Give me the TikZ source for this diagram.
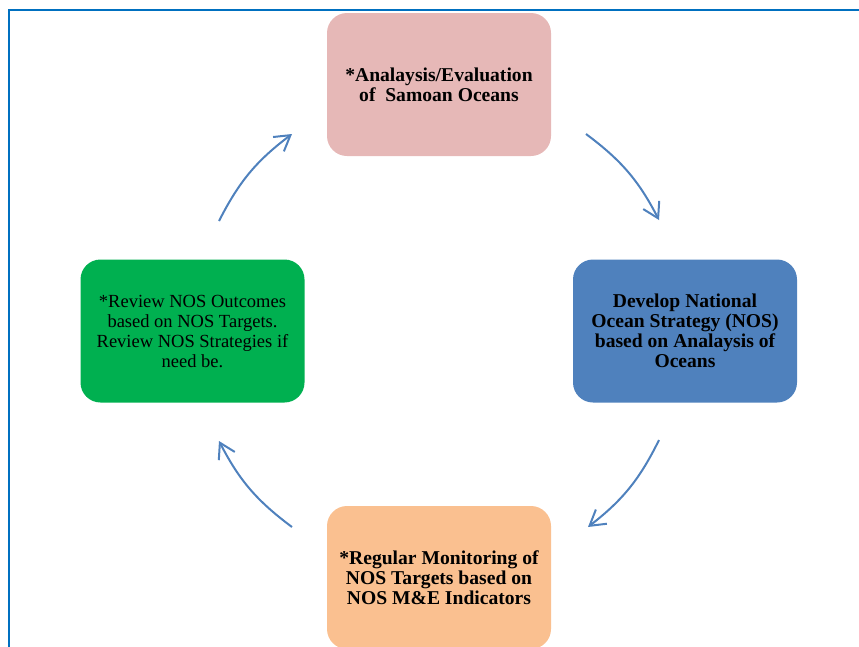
\documentclass[tikz,border=0pt]{standalone}
\usepackage{fontspec}
\setmainfont{Liberation Serif}
\usetikzlibrary{arrows.meta}
\definecolor{framebl}{RGB}{0,112,192}
\definecolor{pinkbox}{RGB}{230,184,183}
\definecolor{bluebox}{RGB}{79,129,189}
\definecolor{greenbox}{RGB}{0,176,80}
\definecolor{orangebox}{RGB}{250,192,144}
\begin{document}
\begin{tikzpicture}[x=1pt,y=1pt,
		stagebox/.style={rounded corners=20pt,minimum width=224pt,minimum height=143pt,inner sep=0pt,align=center,font=\fontsize{18.5}{20}\selectfont},
		boldtext/.style={font=\fontsize{19.6}{20}\selectfont\bfseries},
		cyclearrow/.style={bluebox,line width=2pt,-{Straight Barb[length=15pt,width=18pt]}}]
		
		\useasboundingbox (0,0) rectangle (859,-646);
		\draw[framebl,line width=2.2pt] (8.7,-10.3) rectangle (880,-680);
		
		\node[stagebox,boldtext,fill=pinkbox] (analysis) at (439,-84.5) {*Analaysis/Evaluation\\of~ Samoan Oceans};
		\node[stagebox,boldtext,fill=bluebox] (develop) at (685,-331) {Develop National\\Ocean Strategy (NOS)\\based on Analaysis of\\Oceans};
		\node[stagebox,boldtext,fill=orangebox] (monitor) at (439,-577.5) {*Regular Monitoring of\\NOS Targets based on\\NOS M\&E Indicators};
		\node[stagebox,fill=greenbox] (review) at (192.5,-331) {*Review NOS Outcomes\\based on NOS Targets.\\Review NOS Strategies if\\need be.};
		
		\coordinate (a1) at (586,-134); \coordinate (b1) at (659,-220);
		\coordinate (a2) at (659,-440); \coordinate (b2) at (588,-527);
		\coordinate (a3) at (292,-527); \coordinate (b3) at (219,-441);
		\coordinate (a4) at (219,-221); \coordinate (b4) at (292,-134);
		\draw[cyclearrow] (a1) to[bend left=13] (b1);
		\draw[cyclearrow] (a2) to[bend left=13] (b2);
		\draw[cyclearrow] (a3) to[bend left=13] (b3);
		\draw[cyclearrow] (a4) to[bend left=13] (b4);
		\end{tikzpicture}
\end{document}
